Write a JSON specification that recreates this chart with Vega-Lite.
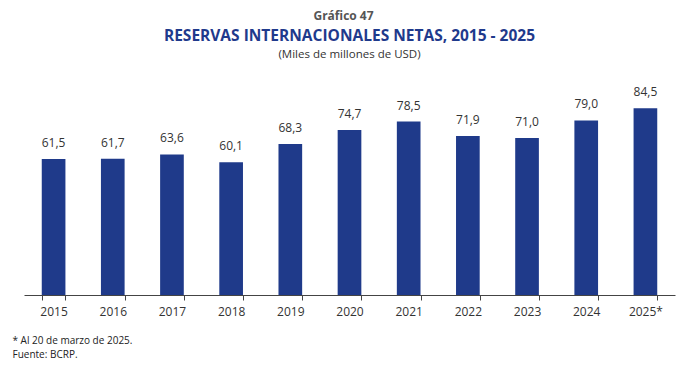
{
  "$schema": "https://vega.github.io/schema/vega-lite/v6.json",
  "background": "white",
  "padding": {"left": 12, "top": 10, "right": 10, "bottom": 5},
  "title": {"text": "Gráfico 47", "font": "Open Sans", "fontSize": 12, "fontWeight": "bold", "color": "#555555", "anchor": "middle", "offset": 6},
  "config": {
    "view": {"stroke": null},
    "locale": {"number": {"decimal": ",", "thousands": ".", "grouping": [3], "currency": ["", ""]}},
    "font": "Open Sans"
  },
  "data": {"values": [
    {"year": "2015", "value": 61.5},
    {"year": "2016", "value": 61.7},
    {"year": "2017", "value": 63.6},
    {"year": "2018", "value": 60.1},
    {"year": "2019", "value": 68.3},
    {"year": "2020", "value": 74.7},
    {"year": "2021", "value": 78.5},
    {"year": "2022", "value": 71.9},
    {"year": "2023", "value": 71.0},
    {"year": "2024", "value": 79.0},
    {"year": "2025*", "value": 84.5}
  ]},
  "vconcat": [
    {
      "width": 651,
      "height": 221,
      "title": {
        "text": "RESERVAS INTERNACIONALES NETAS, 2015 - 2025",
        "subtitle": "(Miles de millones de USD)",
        "font": "Open Sans", "fontSize": 15.5, "fontWeight": "bold", "color": "#1f3a8c",
        "subtitleFont": "Open Sans", "subtitleFontSize": 11.5, "subtitleColor": "#333333", "subtitlePadding": 4,
        "anchor": "middle", "offset": 14
      },
      "encoding": {
        "x": {
          "field": "year", "type": "ordinal", "sort": null,
          "scale": {"paddingInner": 0.6, "paddingOuter": 0.3},
          "axis": {
            "title": ["* Al 20 de marzo de 2025.", "Fuente: BCRP."],
            "titleFont": "Open Sans", "titleFontSize": 10, "titleFontWeight": "normal", "titleColor": "#222222",
            "titleAnchor": "start", "titleAlign": "left", "titleBaseline": "top", "titleX": -12, "titleY": 40, "titleLineHeight": 14,
            "labelAngle": 0, "labelFont": "Open Sans", "labelFontSize": 12, "labelColor": "#333333", "labelPadding": 6,
            "tickBand": "extent", "tickSize": 5, "tickColor": "#444444", "domainColor": "#444444", "grid": false
          }
        },
        "y": {"field": "value", "type": "quantitative", "scale": {"domain": [0, 100]}, "axis": null}
      },
      "layer": [
        {"mark": {"type": "bar", "color": "#1f3a8a"}},
        {"mark": {"type": "text", "baseline": "bottom", "dy": -9, "font": "Open Sans", "fontSize": 12, "color": "#333333"},
         "encoding": {"text": {"field": "value", "type": "quantitative", "format": ".1f"}}}
      ]
    }
  ]
}
